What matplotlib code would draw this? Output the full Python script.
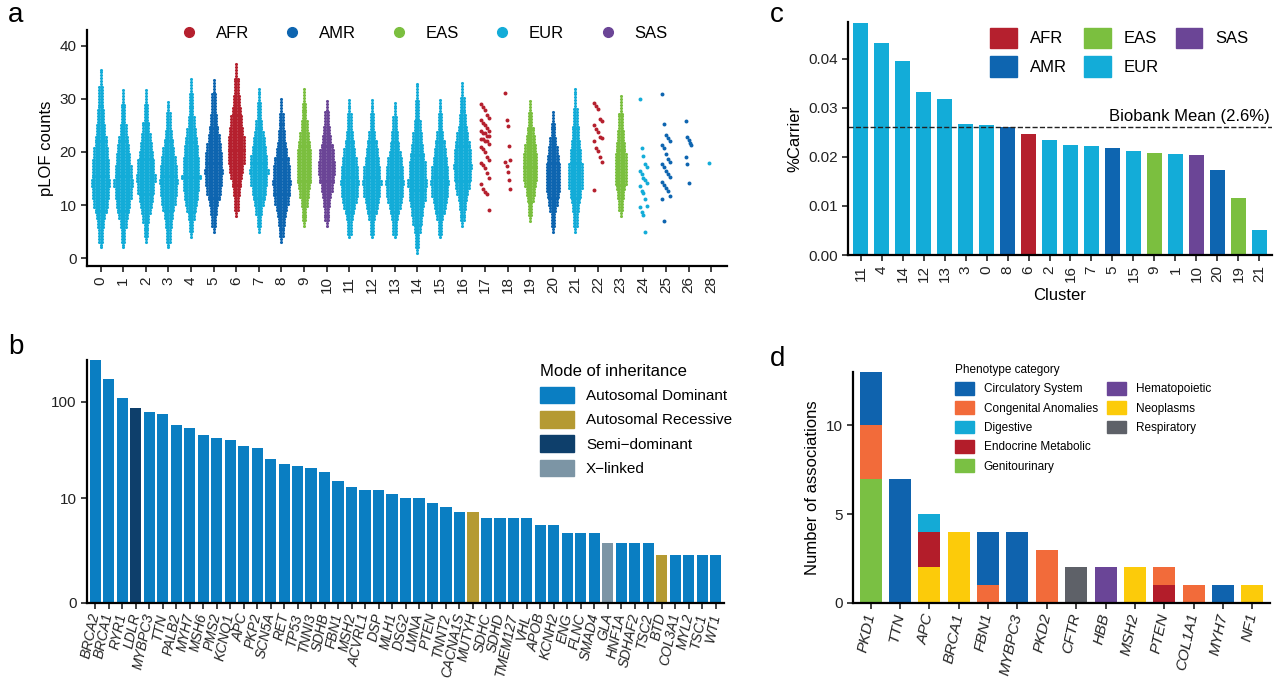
import numpy as np
import matplotlib
matplotlib.use("Agg")
import matplotlib.pyplot as plt
from matplotlib.patches import Patch
from matplotlib.lines import Line2D

plt.rcParams['font.family'] = ['Liberation Sans', 'DejaVu Sans']

POP_COL = {'AFR': '#B5202E', 'AMR': '#0E65B0', 'EAS': '#7BBF3F', 'EUR': '#13ACD8', 'SAS': '#6B4596'}

# ---------- panel a data ----------
a_labels = [str(i) for i in range(27)] + ['28']
a_pop = ['EUR', 'EUR', 'EUR', 'EUR', 'EUR', 'AMR', 'AFR', 'EUR', 'AMR', 'EAS', 'SAS', 'EUR', 'EUR', 'EUR',
         'EUR', 'EUR', 'EUR', 'AFR', 'AFR', 'EAS', 'AMR', 'EUR', 'AFR', 'EAS', 'EUR', 'AMR', 'AMR', 'EUR']
# dense clusters: lo, hi, centre, max half-width (x units)
dense = {
    0: (2, 36, 14, 0.36), 1: (2, 32, 14, 0.36), 2: (3, 32, 15, 0.36), 3: (2, 30, 14.5, 0.36),
    4: (4, 34, 15, 0.36), 5: (5, 34, 16, 0.36), 6: (8, 37, 20, 0.34), 7: (5, 32, 16, 0.36),
    8: (3, 30, 14, 0.36), 9: (6, 32, 17, 0.30), 10: (6, 30, 17, 0.32), 11: (4, 30, 14, 0.36),
    12: (4, 30, 14, 0.36), 13: (4, 29.5, 14, 0.36), 14: (1, 33, 14, 0.36), 15: (4, 30, 14, 0.36),
    16: (6, 33, 17, 0.36), 19: (7, 30, 17, 0.30), 20: (5, 28, 15, 0.30), 21: (5, 32, 15, 0.28),
    23: (8, 31, 16, 0.24),
}
sparse = {
    17: [29, 28.5, 28, 27, 26.5, 26, 25.5, 25, 24.5, 24, 24, 23.5, 23.5, 23, 23, 22.5, 22.5, 22, 22, 21.5,
         21, 20.5, 20, 19, 18.5, 18, 17.5, 17, 16, 15, 14, 13, 12.5, 12, 9],
    18: [31.2, 26.1, 24.9, 21.1, 18.4, 18.1, 17.3, 16.2, 14.7, 13.1],
    22: [29.3, 28.7, 28.1, 26.2, 25.9, 25, 24.4, 23.8, 22.9, 22.6, 22, 20.8, 20.2, 19, 18.1, 12.9],
    24: [30, 20.8, 19.3, 17.8, 17.1, 16.5, 15.9, 15, 14.7, 14.1, 13.5, 12.6, 12.3, 11.1, 9.9, 9.6, 8.7, 8.1, 5],
    25: [31, 25.2, 23.2, 22.6, 22, 21.4, 20.8, 19.6, 18.7, 18.1, 17.8, 17.2, 16.5, 15.9, 15.3, 14.4, 13.8,
         13.2, 12.6, 11.7, 11.1, 7],
    26: [25.9, 22.9, 22.3, 21.7, 21.3, 19, 17.8, 14.2],
    27: [17.9],
}

# ---------- panel b data ----------
b_genes = ['BRCA2', 'BRCA1', 'RYR1', 'LDLR', 'MYBPC3', 'TTN', 'PALB2', 'MYH7', 'MSH6', 'PMS2', 'KCNQ1', 'APC',
           'PKP2', 'SCN5A', 'RET', 'TP53', 'TNNI3', 'SDHB', 'FBN1', 'MSH2', 'ACVRL1', 'DSP', 'MLH1', 'DSG2',
           'LMNA', 'PTEN', 'TNNT2', 'CACNA1S', 'MUTYH', 'SDHC', 'SDHD', 'TMEM127', 'VHL', 'APOB', 'KCNH2',
           'ENG', 'FLNC', 'SMAD4', 'GLA', 'HNF1A', 'SDHAF2', 'TSC2', 'BTD', 'COL3A1', 'MYL2', 'TSC1', 'WT1']
b_vals = [262, 168, 108, 86, 78, 75, 58, 54, 46, 43, 41, 36, 34, 26, 23, 22, 21, 19, 15.3, 13.3, 12.2, 12.2,
          11.2, 10.2, 10.2, 9, 8.1, 7.1, 7.1, 6.1, 6.1, 6.1, 6.1, 5, 5, 4, 4, 4, 3, 3, 3, 3, 2, 2, 2, 2, 2]
b_mode = ['AD'] * 47
b_mode[3] = 'SD'; b_mode[28] = 'AR'; b_mode[38] = 'XL'; b_mode[42] = 'AR'
MODE_COL = {'AD': '#0A7EC2', 'AR': '#B59A32', 'SD': '#0E3F6B', 'XL': '#7C95A5'}
MODE_NAME = {'AD': 'Autosomal Dominant', 'AR': 'Autosomal Recessive', 'SD': 'Semi\u2212dominant', 'XL': 'X\u2212linked'}

# ---------- panel c data ----------
c_clusters = ['11', '4', '14', '12', '13', '3', '0', '8', '6', '2', '16', '7', '5', '15', '9', '1', '10', '20', '19', '21']
c_vals = [0.0472, 0.0433, 0.0395, 0.0332, 0.0318, 0.0268, 0.0265, 0.0260, 0.0246, 0.0235, 0.0224, 0.0222,
          0.0218, 0.0211, 0.0208, 0.0206, 0.0203, 0.0173, 0.0117, 0.0050]
c_pop = ['EUR', 'EUR', 'EUR', 'EUR', 'EUR', 'EUR', 'EUR', 'AMR', 'AFR', 'EUR', 'EUR', 'EUR', 'AMR', 'EUR',
         'EAS', 'EUR', 'SAS', 'AMR', 'EAS', 'EUR']
c_mean = 0.026

# ---------- panel d data ----------
d_genes = ['PKD1', 'TTN', 'APC', 'BRCA1', 'FBN1', 'MYBPC3', 'PKD2', 'CFTR', 'HBB', 'MSH2', 'PTEN', 'COL1A1', 'MYH7', 'NF1']
d_cats = ['Circulatory System', 'Congenital Anomalies', 'Digestive', 'Endocrine Metabolic', 'Genitourinary',
          'Hematopoietic', 'Neoplasms', 'Respiratory']
d_cols = ['#0F63AE', '#F26B3A', '#14AAD6', '#B31D2A', '#7AC043', '#6A4597', '#FCCB0A', '#5E6168']
d_counts = {
    'Genitourinary':        [7, 0, 0, 0, 0, 0, 0, 0, 0, 0, 0, 0, 0, 0],
    'Neoplasms':            [0, 0, 2, 4, 0, 0, 0, 0, 0, 2, 0, 0, 0, 1],
    'Endocrine Metabolic':  [0, 0, 2, 0, 0, 0, 0, 0, 0, 0, 1, 0, 0, 0],
    'Congenital Anomalies': [3, 0, 0, 0, 1, 0, 3, 0, 0, 0, 1, 1, 0, 0],
    'Digestive':            [0, 0, 1, 0, 0, 0, 0, 0, 0, 0, 0, 0, 0, 0],
    'Circulatory System':   [3, 7, 0, 0, 3, 4, 0, 0, 0, 0, 0, 0, 1, 0],
    'Hematopoietic':        [0, 0, 0, 0, 0, 0, 0, 0, 2, 0, 0, 0, 0, 0],
    'Respiratory':          [0, 0, 0, 0, 0, 0, 0, 2, 0, 0, 0, 0, 0, 0],
}

W, H = 1280, 698
fig = plt.figure(figsize=(12.8, 6.98), dpi=100)

def ax_at(l, r, t, b):
    return fig.add_axes([l / W, 1 - b / H, (r - l) / W, (b - t) / H])

def style(ax):
    for s in ['top', 'right']:
        ax.spines[s].set_visible(False)
    for s in ['left', 'bottom']:
        ax.spines[s].set_linewidth(1.6)
    ax.tick_params(width=1.2, length=4, labelsize=11, colors='#222222')

# ---------- panel a ----------
ax = ax_at(87, 727, 30, 266)
style(ax)
dx, dy = 0.055, 0.55
for i, (lo, hi, c, hw) in dense.items():
    col = POP_COL[a_pop[i]]
    ys = np.arange(lo, hi + 0.01, dy)
    for y in ys:
        s = (c - lo) / 2.4 if y < c else (hi - c) / 2.7
        n = int(round(hw / dx * np.exp(-0.5 * ((y - c) / s) ** 2)))
        if y in (ys[0], ys[-1]):
            n = 0
        xs = i + np.arange(-n, n + 1) * dx
        ax.scatter(xs, np.full(len(xs), y), s=5, color=col, linewidths=0)
for i, vals in sparse.items():
    col = POP_COL[a_pop[i]]
    vals = np.array(vals)
    offs = np.array([((k % 5) - 2) * 0.08 for k in range(len(vals))])
    if len(vals) < 12:
        offs = offs * 0.6
    ax.scatter(i + offs, vals, s=8, color=col, linewidths=0)
ax.set_xlim(-0.6, len(a_labels) - 0.3)
ax.set_ylim(-1.5, 43)
ax.set_yticks([0, 10, 20, 30, 40])
ax.set_xticks(range(len(a_labels)))
ax.set_xticklabels(a_labels, rotation=90, fontsize=11)
ax.set_ylabel('pLOF counts', fontsize=12)
hand = [Line2D([], [], marker='o', ls='', color=POP_COL[p], markersize=7, label=p) for p in POP_COL]
ax.legend(handles=hand, loc='upper center', bbox_to_anchor=(0.52, 1.08), ncol=5, frameon=False,
          fontsize=12, handletextpad=0.6, columnspacing=1.6)

# ---------- panel b ----------
ax = ax_at(87, 724, 360, 603)
style(ax)
ax.set_yscale('function', functions=(lambda v: np.log10(np.maximum(v, 0) + 1), lambda v: 10 ** v - 1))
xb = np.arange(len(b_genes))
ax.bar(xb, b_vals, width=0.82, color=[MODE_COL[m] for m in b_mode])
ax.set_ylim(0, 262)
ax.set_yticks([0, 10, 100])
ax.set_yticklabels(['0', '10', '100'])
ax.minorticks_off()
ax.set_xlim(-0.6, len(b_genes) - 0.4)
ax.set_xticks(xb)
ax.set_xticklabels(b_genes, rotation=78, ha='right', va='center', rotation_mode='anchor', fontstyle='italic', fontsize=10)
hand = [Patch(color=MODE_COL[k], label=MODE_NAME[k]) for k in ['AD', 'AR', 'SD', 'XL']]
ax.legend(handles=hand, title='Mode of inheritance', loc='upper left', bbox_to_anchor=(0.69, 1.04),
          frameon=False, fontsize=11, title_fontsize=12, handlelength=2.2, handleheight=1.3,
          alignment='left')

# ---------- panel c ----------
ax = ax_at(848, 1272, 22, 255)
style(ax)
xc = np.arange(len(c_clusters))
ax.bar(xc, c_vals, width=0.75, color=[POP_COL[p] for p in c_pop])
ax.axhline(c_mean, ls='--', color='#222222', lw=1)
ax.text(len(c_clusters) - 0.5, c_mean + 0.0008, 'Biobank Mean (2.6%)', ha='right', va='bottom', fontsize=12)
ax.set_ylim(0, 0.0475)
ax.set_yticks([0, 0.01, 0.02, 0.03, 0.04])
ax.set_yticklabels(['0.00', '0.01', '0.02', '0.03', '0.04'])
ax.set_xlim(-0.6, len(c_clusters) - 0.4)
ax.set_xticks(xc)
ax.set_xticklabels(c_clusters, rotation=90, fontsize=11)
ax.set_ylabel('%Carrier', fontsize=12)
ax.set_xlabel('Cluster', fontsize=12)
order = ['AFR', 'AMR', 'EAS', 'EUR', 'SAS']
hand = [Patch(color=POP_COL[p], label=p) for p in order]
ax.legend(handles=hand, loc='upper left', bbox_to_anchor=(0.3, 1.04), ncol=3, frameon=False, fontsize=12,
          handlelength=1.6, handleheight=1.5, columnspacing=1.0, handletextpad=0.8)

# ---------- panel d ----------
ax = ax_at(853, 1270, 372, 603)
style(ax)
xd = np.arange(len(d_genes))
bottom = np.zeros(len(d_genes))
for cat, vals in d_counts.items():
    v = np.array(vals, dtype=float)
    ax.bar(xd, v, bottom=bottom, width=0.75, color=d_cols[d_cats.index(cat)])
    bottom += v
ax.set_ylim(0, 13)
ax.set_yticks([0, 5, 10])
ax.set_xlim(-0.6, len(d_genes) - 0.4)
ax.set_xticks(xd)
ax.set_xticklabels(d_genes, rotation=78, ha='right', va='center', rotation_mode='anchor', fontstyle='italic', fontsize=11)
ax.set_ylabel('Number of associations', fontsize=12)
hand = [Patch(color=c, label=n) for n, c in zip(d_cats, d_cols)]
blank = Patch(color='none', label='')
hand = hand[:5] + hand[5:] + [blank, blank]
ax.legend(handles=hand, title='Phenotype category', loc='upper left', bbox_to_anchor=(0.22, 1.08), ncol=2,
          frameon=False, fontsize=8.5, title_fontsize=8.5, handlelength=1.6, handleheight=1.3,
          columnspacing=0.8, alignment='left')

for lab, x, y in [('a', 8, 28), ('b', 8, 360), ('c', 770, 28), ('d', 770, 372)]:
    fig.text(x / W, 1 - y / H, lab, fontsize=20, va='bottom')

fig.savefig('out.png', dpi=100)
